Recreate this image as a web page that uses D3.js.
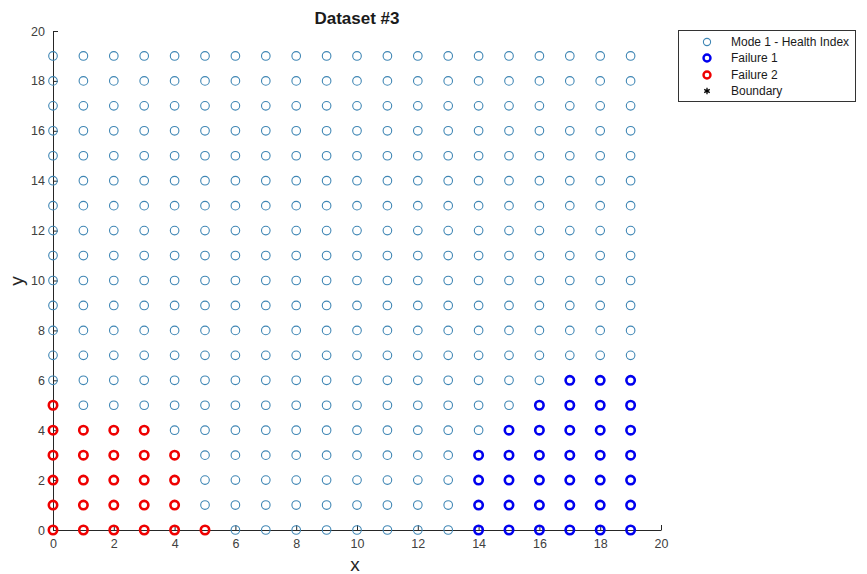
<!DOCTYPE html>
<html><head><meta charset="utf-8">
<script src="https://cdn.jsdelivr.net/npm/d3@7"></script>
<style>body{margin:0;background:#fff;}svg{display:block;font-family:Arial,"Liberation Sans",sans-serif;}</style>
</head><body>
<script>
const title = "Dataset #3";
const xTicks = [0,2,4,6,8,10,12,14,16,18,20];
const yTicks = [0,2,4,6,8,10,12,14,16,18,20];
const gridX = [0,1,2,3,4,5,6,7,8,9,10,11,12,13,14,15,16,17,18,19];
const gridY = [0,1,2,3,4,5,6,7,8,9,10,11,12,13,14,15,16,17,18,19];
// Failure 2: column x and the top y of the red run starting at 0
const failure2X = [0,1,2,3,4,5];
const failure2Top = [5,4,4,4,3,0];
// Failure 1
const failure1X = [14,15,16,17,18,19];
const failure1Top = [3,4,5,6,6,6];
const legendLabels = ["Mode 1 - Health Index","Failure 1","Failure 2","Boundary"];
const colors = {health:"#3f86b4", f1:"#0000ee", f2:"#ee0000", boundary:"#000"};

const W=867,H=574;
const svg=d3.select("body").append("svg").attr("width",W).attr("height",H);
const x=d3.scaleLinear().domain([0,20]).range([53,661]);
const y=d3.scaleLinear().domain([0,20]).range([530,31]);

function expand(cols,tops){const pts=[];cols.forEach((c,i)=>{for(let v=0;v<=tops[i];v++)pts.push([c,v]);});return pts;}
const f2=expand(failure2X,failure2Top), f1=expand(failure1X,failure1Top);
const key=p=>p[0]+","+p[1];
const failSet=new Set([...f1,...f2].map(key));
const health=[];
gridX.forEach(gx=>gridY.forEach(gy=>{if(!failSet.has(gx+","+gy))health.push([gx,gy]);}));

// axes
const xa=svg.append("g").attr("transform","translate(0,530)")
  .call(d3.axisBottom(x).tickValues(xTicks).tickSizeInner(-5).tickSizeOuter(0).tickPadding(9));
const ya=svg.append("g").attr("transform","translate(53,0)")
  .call(d3.axisLeft(y).tickValues(yTicks).tickSizeInner(-5).tickSizeOuter(0).tickPadding(8));
[xa,ya].forEach(a=>{a.select(".domain").attr("stroke","#262626");a.selectAll(".tick line").attr("stroke","#262626");
  a.selectAll("text").attr("fill","#404040").style("font-size","12.5px").style("font-family","Arial,'Liberation Sans',sans-serif");});

// points
svg.append("g").selectAll("circle").data(health).join("circle")
  .attr("cx",d=>x(d[0])).attr("cy",d=>y(d[1])).attr("r",4.3)
  .attr("fill","none").attr("stroke",colors.health).attr("stroke-width",1.1);
svg.append("g").selectAll("circle").data(f1).join("circle")
  .attr("cx",d=>x(d[0])).attr("cy",d=>y(d[1])).attr("r",4.2)
  .attr("fill","none").attr("stroke",colors.f1).attr("stroke-width",2.6);
svg.append("g").selectAll("circle").data(f2).join("circle")
  .attr("cx",d=>x(d[0])).attr("cy",d=>y(d[1])).attr("r",4.2)
  .attr("fill","none").attr("stroke",colors.f2).attr("stroke-width",2.6);

// labels
svg.append("text").attr("x",357).attr("y",24).attr("text-anchor","middle")
  .style("font-size","17px").style("font-weight","bold").attr("fill","#1a1a1a").text(title);
svg.append("text").attr("x",355).attr("y",571).attr("text-anchor","middle")
  .style("font-size","19px").attr("fill","#262626").text("x");
svg.append("text").attr("transform","translate(23,281) rotate(-90)").attr("text-anchor","middle")
  .style("font-size","19px").attr("fill","#262626").text("y");

// legend
const lg=svg.append("g");
lg.append("rect").attr("x",678.5).attr("y",30.5).attr("width",177).attr("height",71)
  .attr("fill","#fff").attr("stroke","#333").attr("stroke-width",1);
const ly=[42,58,75,91];
legendLabels.forEach((t,i)=>{
  const g=lg.append("g");
  if(i===0) g.append("circle").attr("cx",707).attr("cy",ly[i]).attr("r",3.6).attr("fill","none").attr("stroke",colors.health).attr("stroke-width",1.1);
  else if(i===1) g.append("circle").attr("cx",707).attr("cy",ly[i]).attr("r",3.5).attr("fill","none").attr("stroke",colors.f1).attr("stroke-width",2.4);
  else if(i===2) g.append("circle").attr("cx",707).attr("cy",ly[i]).attr("r",3.5).attr("fill","none").attr("stroke",colors.f2).attr("stroke-width",2.4);
  else g.append("path").attr("transform",`translate(707,${ly[i]})`).attr("d",d3.symbol(d3.symbolAsterisk,28)()).attr("stroke","#000").attr("stroke-width",1.3).attr("fill","none");
  g.append("text").attr("x",731).attr("y",ly[i]+4).style("font-size","12px").attr("fill","#1a1a1a").text(t);
});
</script>
</body></html>
